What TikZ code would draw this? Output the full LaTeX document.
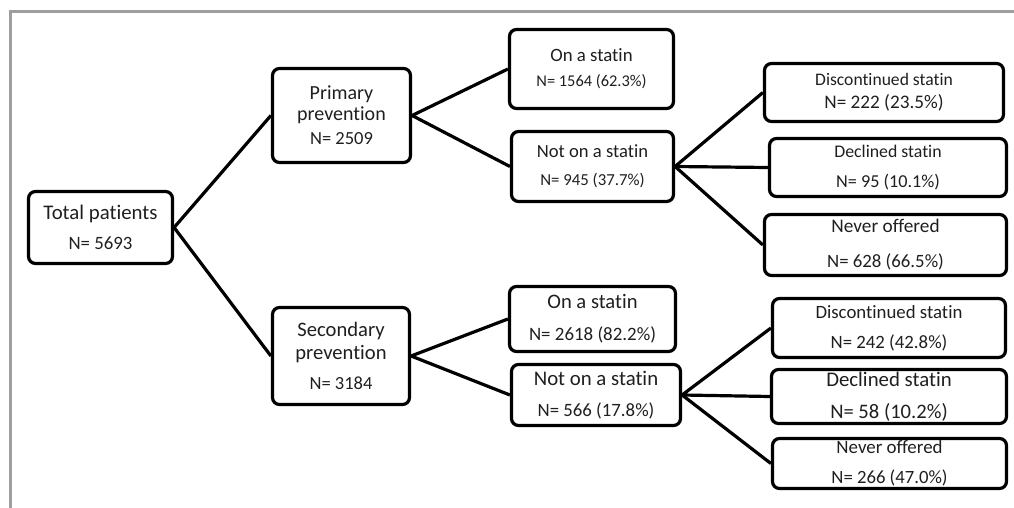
\documentclass[tikz,border=0pt]{standalone}
\usepackage{fontspec}
\setmainfont{Carlito}[RawFeature={-liga}]
\newcommand\fsz[2]{\fontsize{#1}{#2}\selectfont}
\begin{document}
\begin{tikzpicture}[x=1pt,y=-1pt,
  box/.style={draw, line width=3.2pt, rounded corners=7pt, inner sep=0pt, align=center, text=black!88},
  tx/.style 2 args={font=\fontsize{#1}{#2}\selectfont},
  link/.style={line width=3.2pt},
  frame/.style={draw=black!38, line width=3pt}]
\useasboundingbox (0,0) rectangle (1014,508);
\draw[frame] (10,508) -- (10,12) -- (1014,12);

\node[box, tx={20.8}{30}, minimum width=144pt, minimum height=72pt] (tot) at (100.5,227.5)
  {Total patients\\\fsz{18.8}{30}N= 5693};
\node[box, tx={20}{21}, minimum width=138pt, minimum height=94pt] (prim) at (341.5,115.5)
  {Primary\\prevention\\[3pt]\fsz{18.5}{21}N= 2509};
\node[box, tx={20.6}{23}, minimum width=137pt, minimum height=97pt] (sec) at (341,356)
  {Secondary\\prevention\\[7pt]\fsz{18.5}{23}N= 3184};

\node[box, tx={18.8}{25}, minimum width=164pt, minimum height=79pt] (on1) at (591.5,69)
  {On a statin\\\fsz{16.4}{25}N= 1564 (62.3\%)};
\node[box, tx={18.6}{28}, minimum width=162pt, minimum height=70pt] (not1) at (592.5,166.5)
  {Not on a statin\\\fsz{16.8}{28}N= 945 (37.7\%)};
\node[box, tx={20.6}{32}, minimum width=166pt, minimum height=65pt] (on2) at (592.5,319)
  {On a statin\\\fsz{18.9}{32}N= 2618 (82.2\%)};
\node[box, tx={20.8}{31}, minimum width=169pt, minimum height=61pt] (not2) at (596,395)
  {Not on a statin\\\fsz{18.8}{31}N= 566 (17.8\%)};

\node[box, tx={17.6}{23}, minimum width=239pt, minimum height=58pt] (dis1) at (884,92.5)
  {Discontinued statin\\\fsz{19.2}{23}N= 222 (23.5\%)};
\node[box, tx={17.8}{30}, minimum width=237pt, minimum height=58pt] (dec1) at (888,167.5)
  {Declined statin\\\fsz{18.2}{30}N= 95 (10.1\%)};
\node[box, tx={19.3}{35}, minimum width=242pt, minimum height=61pt] (nev1) at (885.5,245)
  {Never offered\\\fsz{18.8}{35}N= 628 (66.5\%)};

\node[box, tx={18.8}{30}, minimum width=233pt, minimum height=59pt] (dis2) at (889,328)
  {Discontinued statin\\\fsz{18.8}{30}N= 242 (42.8\%)};
\node[box, tx={20.8}{32}, minimum width=235pt, minimum height=54pt] (dec2) at (889,396.5)
  {Declined statin\\\fsz{20.6}{32}N= 58 (10.2\%)};
\node[box, tx={18.9}{30}, minimum width=234pt, minimum height=50pt] (nev2) at (889.5,463.5)
  {Never offered\\\fsz{18.7}{30}N= 266 (47.0\%)};

\draw[link] (tot.east) -- (prim.west);
\draw[link] (tot.east) -- (sec.west);
\draw[link] (prim.east) -- (on1.west);
\draw[link] (prim.east) -- (not1.west);
\draw[link] (sec.east) -- (on2.west);
\draw[link] (sec.east) -- (not2.west);
\draw[link] (not1.east) -- (dis1.west);
\draw[link] (not1.east) -- (dec1.west);
\draw[link] (not1.east) -- (nev1.west);
\draw[link] (not2.east) -- (dis2.west);
\draw[link] (not2.east) -- (dec2.west);
\draw[link] (not2.east) -- (nev2.west);
\end{tikzpicture}
\end{document}
